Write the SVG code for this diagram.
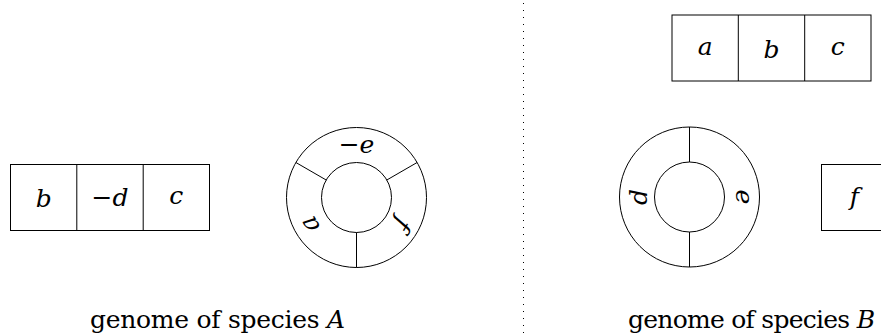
<svg xmlns="http://www.w3.org/2000/svg" width="881" height="335" viewBox="0 0 881 335">
<style>
.box{fill:#fff;stroke:#000;stroke-width:1}
.ln{stroke:#000;stroke-width:1;fill:none}
.lbl{font-family:'DejaVu Serif','Liberation Serif',serif;font-size:25px;font-style:italic;text-anchor:middle;fill:#000}
.up{font-style:normal}
.cap{font-family:'DejaVu Serif','Liberation Serif',serif;font-size:25px;fill:#000}
.sep{stroke:#000;stroke-width:1;stroke-dasharray:1 6}
</style>
<rect width="881" height="335" fill="#fff"/>
<g id="connectors"></g>
<g id="separator">
<line class="sep" x1="523.5" y1="3" x2="523.5" y2="335"/>
</g>
<g id="A-linear">
<rect class="box" x="10.5" y="164.5" width="199" height="66"/>
<line class="ln" x1="76.8" y1="164.5" x2="76.8" y2="230.5"/>
<line class="ln" x1="143.2" y1="164.5" x2="143.2" y2="230.5"/>
<text class="lbl" x="43.7" y="207">b</text>
<text class="lbl" x="110" y="206"><tspan class="up">−</tspan>d</text>
<text class="lbl" x="176.3" y="204">c</text>
</g>
<g id="A-circular">
<circle class="ln" cx="356.5" cy="197.5" r="70"/>
<circle class="ln" cx="356.5" cy="197.5" r="35"/>
<line class="ln" x1="356.5" y1="232.5" x2="356.5" y2="267.5"/>
<line class="ln" x1="326.2" y1="180" x2="295.9" y2="162.5"/>
<line class="ln" x1="386.8" y1="180" x2="417.1" y2="162.5"/>
<text class="lbl" x="356.5" y="152.5"><tspan class="up">−</tspan>e</text>
<text class="lbl" x="356.5" y="151.5" transform="rotate(240 356.5 197.5)">a</text>
<text class="lbl" x="356.5" y="152.5" transform="rotate(120 356.5 197.5)">f</text>
</g>
<g id="B-linear-abc">
<rect class="box" x="672" y="15" width="199" height="66"/>
<line class="ln" x1="738.3" y1="15" x2="738.3" y2="81"/>
<line class="ln" x1="804.7" y1="15" x2="804.7" y2="81"/>
<text class="lbl" x="705.2" y="54.5">a</text>
<text class="lbl" x="771.5" y="57.5">b</text>
<text class="lbl" x="837.8" y="54.5">c</text>
</g>
<g id="B-circular">
<circle class="ln" cx="689.5" cy="197" r="70"/>
<circle class="ln" cx="689.5" cy="197" r="35"/>
<line class="ln" x1="689.5" y1="127" x2="689.5" y2="162"/>
<line class="ln" x1="689.5" y1="232" x2="689.5" y2="267"/>
<text class="lbl" x="689.5" y="154" transform="rotate(270 689.5 197)">d</text>
<text class="lbl" x="689.5" y="151" transform="rotate(90 689.5 197)">e</text>
</g>
<g id="B-linear-f">
<rect class="box" x="821.5" y="164.5" width="66" height="66"/>
<text class="lbl" x="854.5" y="205">f</text>
</g>
<g id="captions">
<text class="cap" x="90" y="328" textLength="255" lengthAdjust="spacing">genome of species <tspan font-style="italic">A</tspan></text>
<text class="cap" x="628" y="328" textLength="247" lengthAdjust="spacing">genome of species <tspan font-style="italic">B</tspan></text>
</g>
</svg>
